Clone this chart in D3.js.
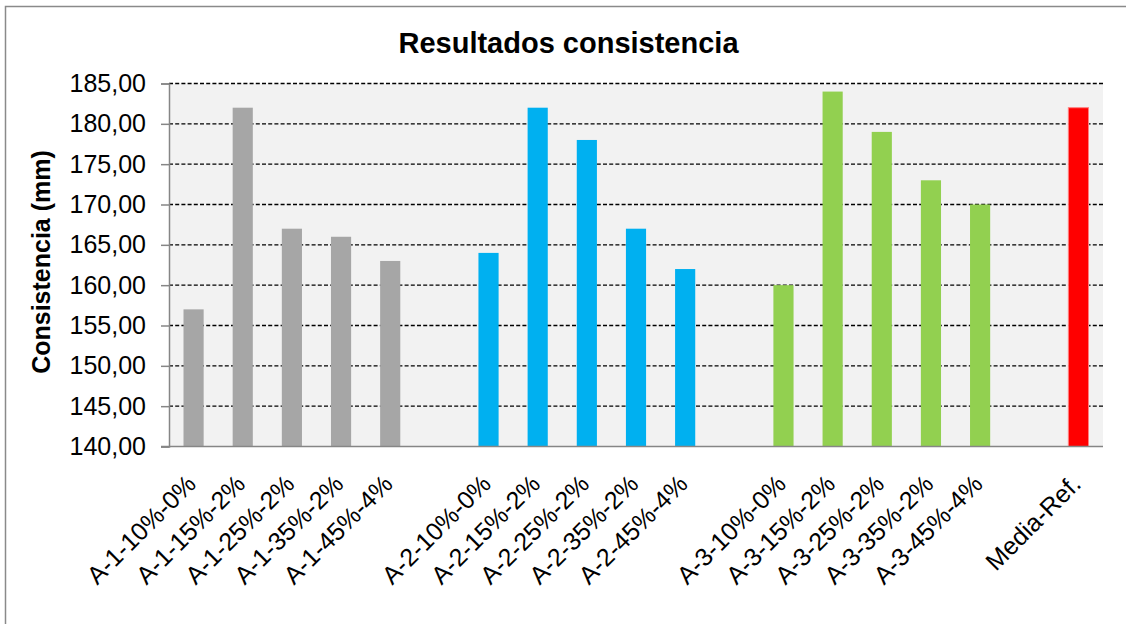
<!DOCTYPE html>
<html>
<head>
<meta charset="utf-8">
<script src="https://cdn.jsdelivr.net/npm/d3@7"></script>
<style>
  html, body { margin: 0; padding: 0; background: #fff; }
  svg { display: block; font-family: "Liberation Sans", Arial, sans-serif; }
</style>
</head>
<body>
<svg id="chart" width="1126" height="624"></svg>
<script>
// ---- Data ----
const title = "Resultados consistencia";
const yTitle = "Consistencia (mm)";
const catsA1 = ["A-1-10%-0%", "A-1-15%-2%", "A-1-25%-2%", "A-1-35%-2%", "A-1-45%-4%"];
const valsA1 = [157, 182, 167, 166, 163];
const catsA2 = ["A-2-10%-0%", "A-2-15%-2%", "A-2-25%-2%", "A-2-35%-2%", "A-2-45%-4%"];
const valsA2 = [164, 182, 178, 167, 162];
const catsA3 = ["A-3-10%-0%", "A-3-15%-2%", "A-3-25%-2%", "A-3-35%-2%", "A-3-45%-4%"];
const valsA3 = [160, 184, 179, 173, 170];
const catsRef = ["Media-Ref."];
const valsRef = [182];
const yTicks = [140, 145, 150, 155, 160, 165, 170, 175, 180, 185];
const colors = { A1: "#A6A6A6", A2: "#00B0F0", A3: "#92D050", Ref: "#FF0000" };

// slots (blank categories separate the groups)
const domain = [...catsA1, "_gap1", ...catsA2, "_gap2", ...catsA3, "_gap3", ...catsRef];
const bars = [
  ...catsA1.map((c, i) => ({ cat: c, v: valsA1[i], g: "A1" })),
  ...catsA2.map((c, i) => ({ cat: c, v: valsA2[i], g: "A2" })),
  ...catsA3.map((c, i) => ({ cat: c, v: valsA3[i], g: "A3" })),
  ...catsRef.map((c, i) => ({ cat: c, v: valsRef[i], g: "Ref" }))
];

// ---- Layout ----
const svg = d3.select("#chart");
const L = 169, R = 1103, T = 83.5, B = 446.5;

const x = d3.scaleBand().domain(domain).range([L, R]).paddingInner(0.59).paddingOuter(0.295);
const y = d3.scaleLinear().domain([140, 185]).range([B, T]);

// outer chart frame
svg.append("rect").attr("x", 5.5).attr("y", 6.5).attr("width", 1200).attr("height", 700)
  .attr("fill", "#fff").attr("stroke", "#8a8a8a").attr("stroke-width", 1.5);

// plot background
svg.append("rect").attr("x", L).attr("y", T).attr("width", R - L).attr("height", B - T)
  .attr("fill", "#F2F2F2");

// gridlines
svg.append("g").selectAll("line").data(yTicks.filter(d => d !== 140)).join("line")
  .attr("x1", L).attr("x2", R)
  .attr("y1", d => y(d)).attr("y2", d => y(d))
  .attr("stroke", "#000").attr("stroke-width", 1.4).attr("stroke-dasharray", "4,2.2");

// bars
svg.append("g").selectAll("rect").data(bars).join("rect")
  .attr("x", d => x(d.cat)).attr("width", x.bandwidth())
  .attr("y", d => y(d.v)).attr("height", d => B - y(d.v))
  .attr("fill", d => colors[d.g])
  .attr("stroke", d => d.g === "Ref" ? "#FF8080" : "none")
  .attr("stroke-width", 1);

// y axis
const yAxis = d3.axisLeft(y).tickValues(yTicks).tickSize(8).tickPadding(15)
  .tickFormat(d => d3.format(".2f")(d).replace(".", ","));
const gy = svg.append("g").attr("transform", `translate(${L},0)`).call(yAxis);
gy.select(".domain").attr("stroke", "#868686").attr("stroke-width", 1.5);
gy.selectAll(".tick line").attr("stroke", "#868686").attr("stroke-width", 1.5);
gy.selectAll(".tick text").attr("fill", "#000").style("font-size", "25px")
  .style("font-family", '"Liberation Sans", Arial, sans-serif');

// x axis
const xAxis = d3.axisBottom(x).tickSize(0).tickPadding(0)
  .tickFormat(d => d.startsWith("_gap") ? "" : d);
const gx = svg.append("g").attr("transform", `translate(0,${B})`).call(xAxis);
gx.select(".domain").attr("stroke", "#868686").attr("stroke-width", 1.5)
  .attr("d", `M${L - 8},0H${R}`);
gx.selectAll(".tick text")
  .attr("fill", "#000")
  .style("font-size", "25px")
  .style("font-family", '"Liberation Sans", Arial, sans-serif')
  .attr("text-anchor", "end")
  .attr("dy", 0).attr("y", 0)
  .attr("transform", "translate(4,39) rotate(-45)");

// title
svg.append("text").attr("x", 568.5).attr("y", 53).attr("text-anchor", "middle")
  .style("font-size", "29px").style("font-weight", "bold").attr("fill", "#000").text(title);

// y title
svg.append("text").attr("transform", "translate(50,262) rotate(-90)").attr("text-anchor", "middle")
  .style("font-size", "25px").style("font-weight", "bold").attr("fill", "#000").text(yTitle);
</script>
</body>
</html>
